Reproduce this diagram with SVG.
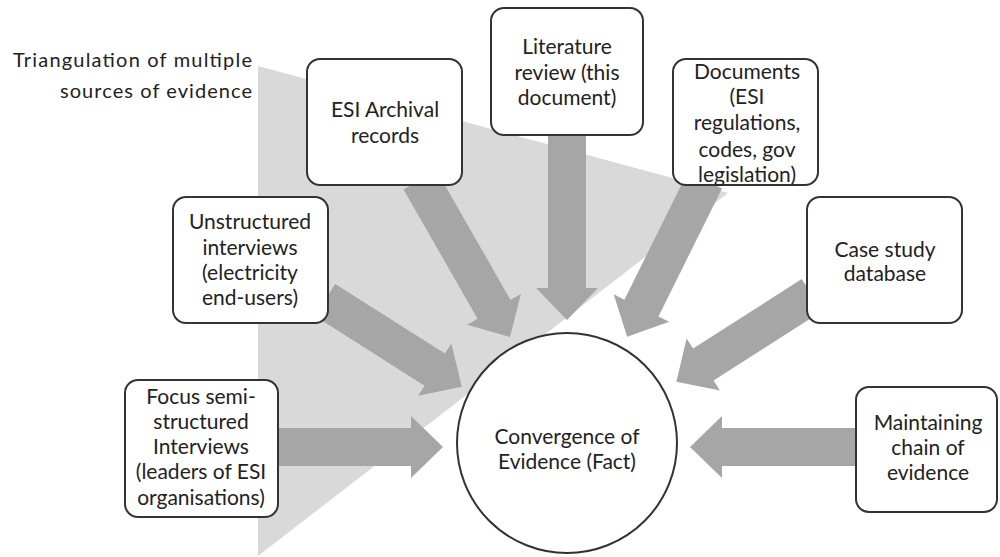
<svg xmlns="http://www.w3.org/2000/svg" width="1000" height="557" viewBox="0 0 1000 557">
<style>
.box{fill:#fff;stroke:#333;stroke-width:2}
.arr{fill:#a6a6a6}
.t{font-family:Lato,"Open Sans","Liberation Sans",sans-serif;font-size:21px;fill:#222;text-anchor:middle}
.cap{font-family:Lato,"Open Sans","Liberation Sans",sans-serif;font-size:20px;fill:#222;text-anchor:end}
</style>
<rect width="1000" height="557" fill="#fff"/>
<polygon id="triangle" points="258,66 258,556 728,193" fill="#d9d9d9"/>
<g id="caption">
<text class="cap" x="252" y="67" textLength="239" lengthAdjust="spacing">Triangulation of multiple</text>
<text class="cap" x="252" y="98" textLength="192" lengthAdjust="spacing">sources of evidence</text>
</g>
<g id="connectors">
<path class="arr" transform="translate(567,135) rotate(90)" d="M0,-19 H153 V-31 L185,0 L153,31 V19 H0 Z"/>
<path class="arr" transform="translate(420,180) rotate(60.2)" d="M0,-19 H149 V-31 L181,0 L149,31 V19 H0 Z"/>
<path class="arr" transform="translate(705,180) rotate(116.4)" d="M0,-19 H143 V-31 L175,0 L143,31 V19 H0 Z"/>
<path class="arr" transform="translate(325,300) rotate(32.4)" d="M0,-19 H130 V-31 L162,0 L130,31 V19 H0 Z"/>
<path class="arr" transform="translate(275,447)" d="M0,-19 H136 V-31 L168,0 L136,31 V19 H0 Z"/>
<path class="arr" transform="translate(812,295) rotate(147.4)" d="M0,-19 H129 V-31 L161,0 L129,31 V19 H0 Z"/>
<path class="arr" transform="translate(860,447) rotate(180)" d="M0,-19 H138 V-31 L170,0 L138,31 V19 H0 Z"/>
</g>
<g id="literature">
<rect class="box" x="491" y="8" width="152" height="127" rx="13"/>
<text class="t" x="567" y="54">Literature</text>
<text class="t" x="567" y="80">review (this</text>
<text class="t" x="567" y="105">document)</text>
</g>
<g id="archival">
<rect class="box" x="307" y="59" width="155" height="126" rx="13"/>
<text class="t" x="385" y="117">ESI Archival</text>
<text class="t" x="385" y="143">records</text>
</g>
<g id="documents">
<rect class="box" x="673" y="59" width="145" height="126" rx="13"/>
<text class="t" x="747" y="79">Documents</text>
<text class="t" x="747" y="104">(ESI</text>
<text class="t" x="747" y="130">regulations,</text>
<text class="t" x="747" y="157">codes, gov</text>
<text class="t" x="747" y="182">legislation)</text>
</g>
<g id="unstructured">
<rect class="box" x="173" y="197" width="155" height="126" rx="13"/>
<text class="t" x="250" y="229">Unstructured</text>
<text class="t" x="250" y="255">interviews</text>
<text class="t" x="250" y="280">(electricity</text>
<text class="t" x="250" y="305">end-users)</text>
</g>
<g id="casestudy">
<rect class="box" x="807" y="197" width="155" height="126" rx="13"/>
<text class="t" x="885" y="257">Case study</text>
<text class="t" x="885" y="281">database</text>
</g>
<g id="focus">
<rect class="box" x="125" y="380" width="153" height="137" rx="13"/>
<text class="t" x="201" y="404">Focus semi-</text>
<text class="t" x="201" y="429">structured</text>
<text class="t" x="201" y="454">Interviews</text>
<text class="t" x="201" y="479">(leaders of ESI</text>
<text class="t" x="201" y="505">organisations)</text>
</g>
<g id="maintaining">
<rect class="box" x="856" y="387" width="141" height="125" rx="13"/>
<text class="t" x="928" y="430">Maintaining</text>
<text class="t" x="928" y="455">chain of</text>
<text class="t" x="928" y="480">evidence</text>
</g>
<g id="convergence">
<circle class="box" cx="567" cy="443" r="110"/>
<text class="t" x="567" y="444">Convergence of</text>
<text class="t" x="567" y="469">Evidence (Fact)</text>
</g>
</svg>
